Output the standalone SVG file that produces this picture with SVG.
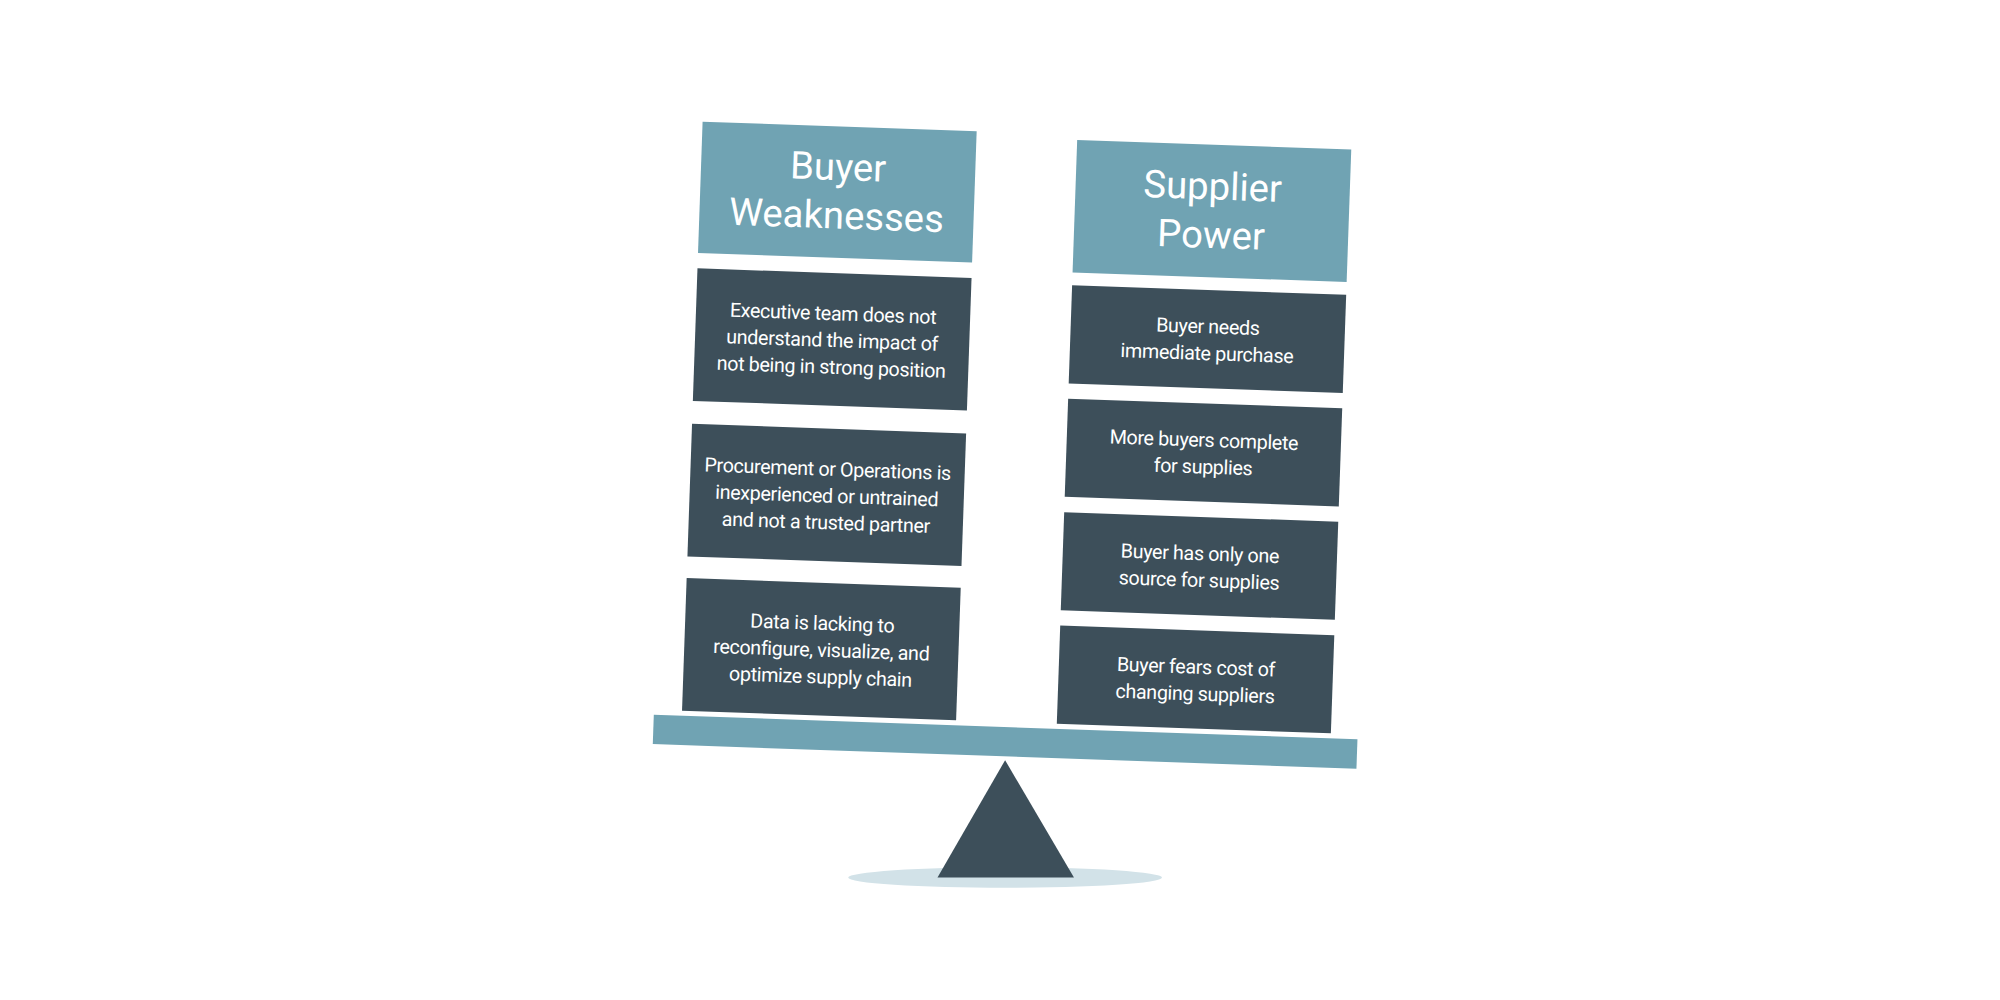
<svg xmlns="http://www.w3.org/2000/svg" width="2000" height="1000" viewBox="0 0 2000 1000">
<style>
.h{fill:#70a3b3}.b{fill:#3d4f5a}
.ht{font-family:Roboto,"Liberation Sans",sans-serif;font-size:30px;fill:#fff;text-anchor:middle}
.bt{font-family:Roboto,"Liberation Sans",sans-serif;font-size:15.5px;fill:#fff;text-anchor:middle;letter-spacing:-0.3px}
</style>
<rect width="2000" height="1000" fill="#fff"/>
<g transform="scale(1.27551)">
<ellipse cx="788" cy="688" rx="123" ry="8" fill="#d2e2e8"/>
<polygon points="788,596 735,688 842,688" fill="#3d4f5a"/>
<g transform="rotate(2 788 582)">
<rect id="beam" x="512" y="570" width="552" height="23" class="h"/>
<g id="n-buyer"><rect x="534" y="104" width="215" height="103" class="h"/><text class="ht" x="641.5" y="146">Buyer</text><text class="ht" x="641.5" y="184">Weaknesses</text></g>
<g id="n-b1"><rect x="534" y="219" width="215" height="104" class="b"/><text class="bt" x="641.5" y="256">Executive team does not</text><text class="bt" x="641.5" y="277">understand the impact of</text><text class="bt" x="641.5" y="298">not being in strong position</text></g>
<g id="n-b2"><rect x="534" y="341" width="215" height="104" class="b"/><text class="bt" x="641.5" y="378">Procurement or Operations is</text><text class="bt" x="641.5" y="399">inexperienced or untrained</text><text class="bt" x="641.5" y="420">and not a trusted partner</text></g>
<g id="n-b3"><rect x="534" y="462" width="215" height="104" class="b"/><text class="bt" x="641.5" y="499">Data is lacking to</text><text class="bt" x="641.5" y="520">reconfigure, visualize, and</text><text class="bt" x="641.5" y="541">optimize supply chain</text></g>
<g id="n-supplier"><rect x="828" y="108" width="215" height="104" class="h"/><text class="ht" x="935.5" y="151">Supplier</text><text class="ht" x="935.5" y="189">Power</text></g>
<g id="n-s1"><rect x="828" y="222" width="215" height="77" class="b"/><text class="bt" x="935.5" y="256">Buyer needs</text><text class="bt" x="935.5" y="277">immediate purchase</text></g>
<g id="n-s2"><rect x="828" y="311" width="215" height="77" class="b"/><text class="bt" x="935.5" y="345">More buyers complete</text><text class="bt" x="935.5" y="366">for supplies</text></g>
<g id="n-s3"><rect x="828" y="400" width="215" height="77" class="b"/><text class="bt" x="935.5" y="434">Buyer has only one</text><text class="bt" x="935.5" y="455">source for supplies</text></g>
<g id="n-s4"><rect x="828" y="489" width="215" height="77" class="b"/><text class="bt" x="935.5" y="523">Buyer fears cost of</text><text class="bt" x="935.5" y="544">changing suppliers</text></g>
</g>
<g id="connectors"/>
</g>
</svg>
